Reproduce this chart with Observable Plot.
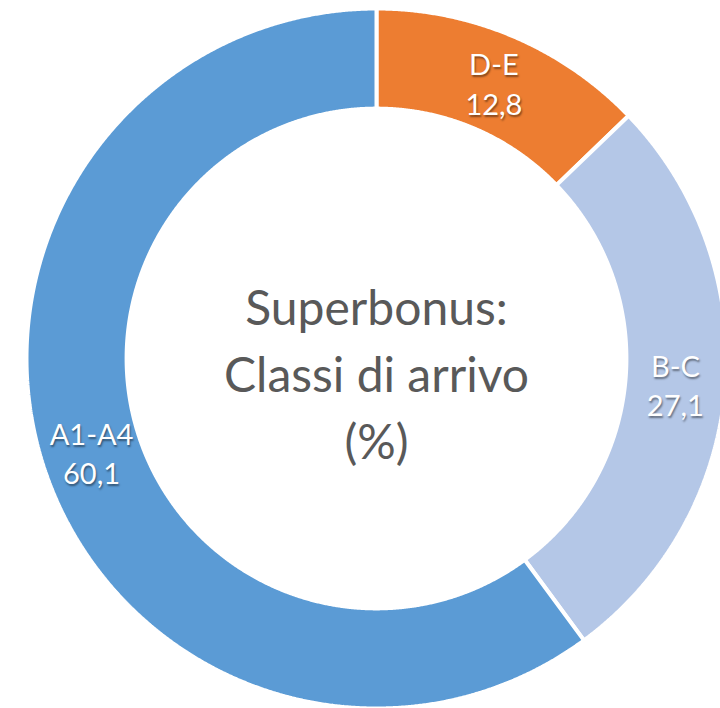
<!DOCTYPE html>
<html><head><meta charset="utf-8">
<script src="https://cdn.jsdelivr.net/npm/d3@7"></script>
<script src="https://cdn.jsdelivr.net/npm/@observablehq/plot@0.6"></script>
<style>
body{margin:0;background:#fff;overflow:hidden}
.slice-label text{ text-shadow: 1px 2px 2px rgba(0,0,0,0.45); }
</style>
</head><body><div id="chart"></div>
<script>
// Data (clockwise from 12 o'clock)
const categories = ["D-E", "B-C", "A1-A4"];
const values = [12.8, 27.1, 60.1];
const valueLabels = ["12,8", "27,1", "60,1"];
const colors = ["#ED7D31", "#B4C7E7", "#5B9BD5"];
const centerTitle = ["Superbonus:", "Classi di arrivo", "(%)"];

const innerRatio = 0.714;
const data = categories.map((c, i) => ({category: c, value: values[i], label: valueLabels[i]}));
const arcs = d3.pie().sort(null).value(d => d.value)(data);

// ring outline points for each slice, derived from the pie angles
const ring = [];
for (const a of arcs) {
  const n = Math.max(2, Math.ceil((a.endAngle - a.startAngle) / 0.004));
  for (let k = 0; k <= n; k++) {
    const t = a.startAngle + (a.endAngle - a.startAngle) * k / n;
    ring.push({category: a.data.category, x: Math.sin(t), y: Math.cos(t)});
  }
  for (let k = n; k >= 0; k--) {
    const t = a.startAngle + (a.endAngle - a.startAngle) * k / n;
    ring.push({category: a.data.category, x: innerRatio * Math.sin(t), y: innerRatio * Math.cos(t)});
  }
}
const midR = (1 + innerRatio) / 2;
const mid = a => (a.startAngle + a.endAngle) / 2;

const chart = Plot.plot({
  width: 720,
  height: 708,
  margin: 0,
  x: {domain: [-1, 1], range: [26, 726], axis: null},
  y: {domain: [-1, 1], range: [708, 8], axis: null},
  color: {domain: categories, range: colors},
  style: {fontFamily: "Lato, 'Open Sans', sans-serif", background: "#fff", overflow: "hidden"},
  marks: [
    Plot.line(ring, {x: "x", y: "y", z: "category", fill: "category", stroke: "white", strokeWidth: 4, curve: "linear-closed", strokeLinejoin: "miter"}),
    Plot.text(arcs, {
      x: a => midR * Math.sin(mid(a)),
      y: a => midR * Math.cos(mid(a)),
      text: a => a.data.category + "\n" + a.data.label,
      fill: "white", fontSize: 29, lineHeight: 1.35,
      className: "slice-label"
    }),
    Plot.text([centerTitle.join("\n")], {
      x: () => 0, y: () => 0, text: d => d,
      fill: "#595959", fontSize: 48, lineHeight: 1.4, dy: 12
    })
  ]
});
document.getElementById("chart").appendChild(chart);
</script>
</body></html>
